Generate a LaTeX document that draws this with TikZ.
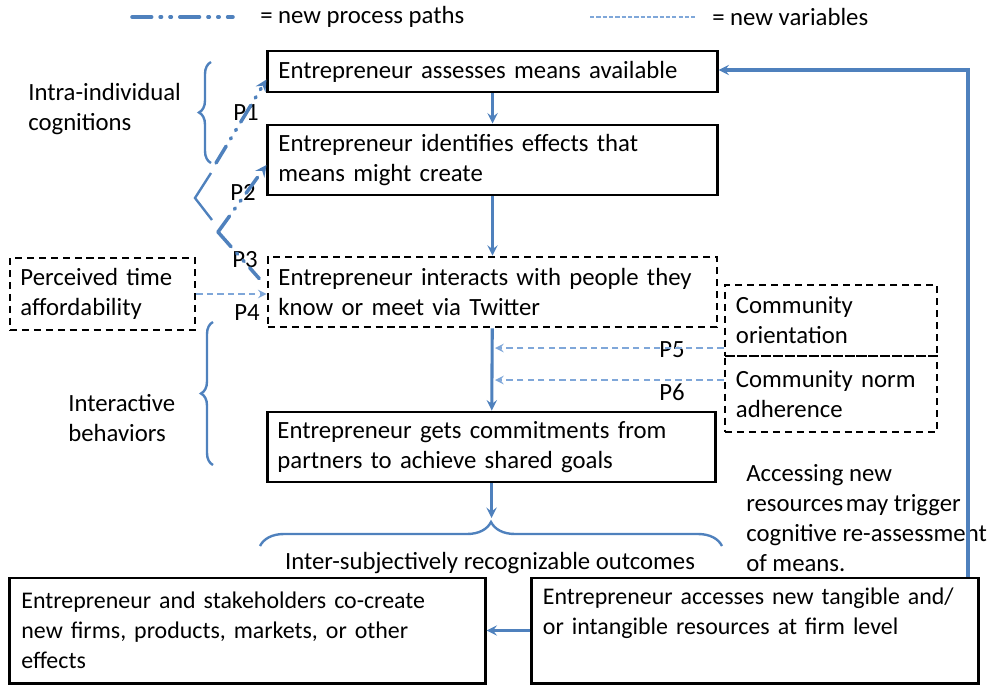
\documentclass[tikz,border=0pt]{standalone}
\usepackage{fontspec}
\setmainfont{Carlito}
\usetikzlibrary{shapes, arrows, decorations.pathreplacing}
\definecolor{pathcol}{HTML}{4F81BD}
\definecolor{varcol}{HTML}{7FA7D9}
\tikzstyle{process} = [rectangle, draw=black, line width=2.1pt, minimum width=11.225cm, minimum height=1.75cm, text width=10.7cm, inner xsep=0.26cm, inner ysep=0.1cm, align=left]
\tikzstyle{newvar} = [process, line width=1.8pt, dash pattern=on 5pt off 3.5pt]
\tikzstyle{arrow} = [line width=2.2pt, draw=pathcol, ->, >=stealth]
\tikzstyle{newpath} = [line width=2.5pt, draw=pathcol, dash pattern=on 14pt off 6pt on 1pt off 6pt on 1pt off 6pt, line cap=round, >=stealth]
\tikzstyle{varline} = [line width=1.7pt, draw=varcol, dash pattern=on 4.5pt off 3pt, ->, >=stealth]
\tikzstyle{bracket} = [line width=1.7pt, draw=pathcol, decorate, decoration={brace, amplitude=0.3cm}]
\tikzstyle{note} = [inner sep=0pt, align=left]

\begin{document}
\begin{tikzpicture}[x=0.025cm, y=-0.025cm, font=\fontsize{17.6}{21.3}\selectfont]
    \useasboundingbox (0,0) rectangle (997,684);

    % legend
    \coordinate (lp1) at (132,17);
    \coordinate (lp2) at (233,17);
    \coordinate (lv1) at (590,17);
    \coordinate (lv2) at (695,17);
    \draw [newpath] (lp1) -- (lp2);
    \node (lpt) [note, anchor=west] at (260,17) {= new process paths};
    \draw [varline, -, line width=1pt, dash pattern=on 3pt off 1.5pt] (lv1) -- (lv2);
    \node (lvt) [note, anchor=west] at (712,17) {= new variables};

    % main flow
    \node (assess) [process, minimum height=1.025cm] at (492.5,71.5) {Entrepreneur assesses means available};
    \node (identify) [process] at (492.5,160) {Entrepreneur identifies effects that\\means might create};
    \node (interact) [newvar] at (492.5,292) {Entrepreneur interacts with people they\\know or meet via Twitter};
    \node (commit) [process, minimum width=11.175cm] at (491.5,447) {Entrepreneur gets commitments from\\partners to achieve shared goals};
    \node (cocreate) [process, minimum width=11.875cm, minimum height=2.625cm, text width=11.3cm, font=\fontsize{17}{21.3}\selectfont] at (247.5,630.5) {Entrepreneur and stakeholders co-create\\new firms, products, markets, or other\\effects};
    \node (access) [process, minimum width=11.15cm, minimum height=2.625cm, text width=10.6cm, font=\fontsize{17}{21.3}\selectfont] at (755,630.5) {Entrepreneur accesses new tangible and/\\or intangible resources at firm level\\\strut};

    % new variables
    \node (timeaff) [newvar, minimum width=4.625cm, minimum height=1.8cm, text width=4.1cm] at (102.5,294) {Perceived time\\affordability};
    \node (orient) [newvar, minimum width=5.3cm, minimum height=1.775cm, text width=4.75cm] at (831,320.5) {Community\\orientation};
    \node (norm) [newvar, minimum width=5.3cm, minimum height=1.9cm, text width=4.75cm] at (831,394) {Community norm\\adherence};

    % side labels
    \node (intra) [note, anchor=west] at (28,109) {Intra-individual\\cognitions};
    \node (behav) [note, anchor=west] at (68,418) {Interactive\\behaviors};
    \node (outcomes) [note] at (490,563) {Inter-subjectively recognizable outcomes};
    \node (trigger) [note, anchor=west] at (746,518) {Accessing new\\resources\hspace{0.1em}may trigger\\cognitive re-assessment\\of means.};

    \node (p1) [note] at (246,113) {P1};
    \node (p2) [note] at (243,192) {P2};
    \node (p3) [note] at (245,260) {P3};
    \node (p4) [note] at (247,313) {P4};
    \node (p5) [note, fill=white, inner xsep=1pt] at (672,350) {P5};
    \node (p6) [note] at (672,392) {P6};

    % brackets
    \draw [bracket] (211,163) -- (211,62);
    \draw [line width=1.7pt, draw=pathcol] (211,173) -- (195,198) -- (212,220);
    \draw [bracket] (213,465) -- (213,322);
    \draw [bracket, decoration={brace, amplitude=0.6cm}] (260,546) -- (722,546);

    % process paths
    \coordinate (c1) at (216,163);
    \coordinate (c23) at (218,232);
    \draw [newpath, ->] (c1) -- ([yshift=0.35cm]assess.south west);
    \draw [newpath, ->] (c23) -- ([yshift=-0.125cm]identify.west);
    \draw [newpath, shorten >=8pt] (c23) -- ([yshift=0.125cm]interact.west);

    \draw [arrow] (assess) -- (identify);
    \draw [arrow] (identify) -- (interact);
    \draw [arrow] (interact) -- (commit);
    \coordinate (otip) at (491.5,518);
    \draw [arrow] (commit) -- (otip);
    \draw [arrow] (access) -- (cocreate);
    \coordinate (fb) at (968,70);
    \draw [arrow] (access.north -| fb) -- (fb) -- (assess.east |- fb);

    % variable links
    \coordinate (v5) at (495,348);
    \coordinate (v6) at (495,380);
    \draw [varline] (timeaff.east) -- (timeaff.east -| interact.west);
    \draw [varline] (orient.west |- v5) -- (v5);
    \draw [varline] (norm.west |- v6) -- (v6);

\end{tikzpicture}
\end{document}
